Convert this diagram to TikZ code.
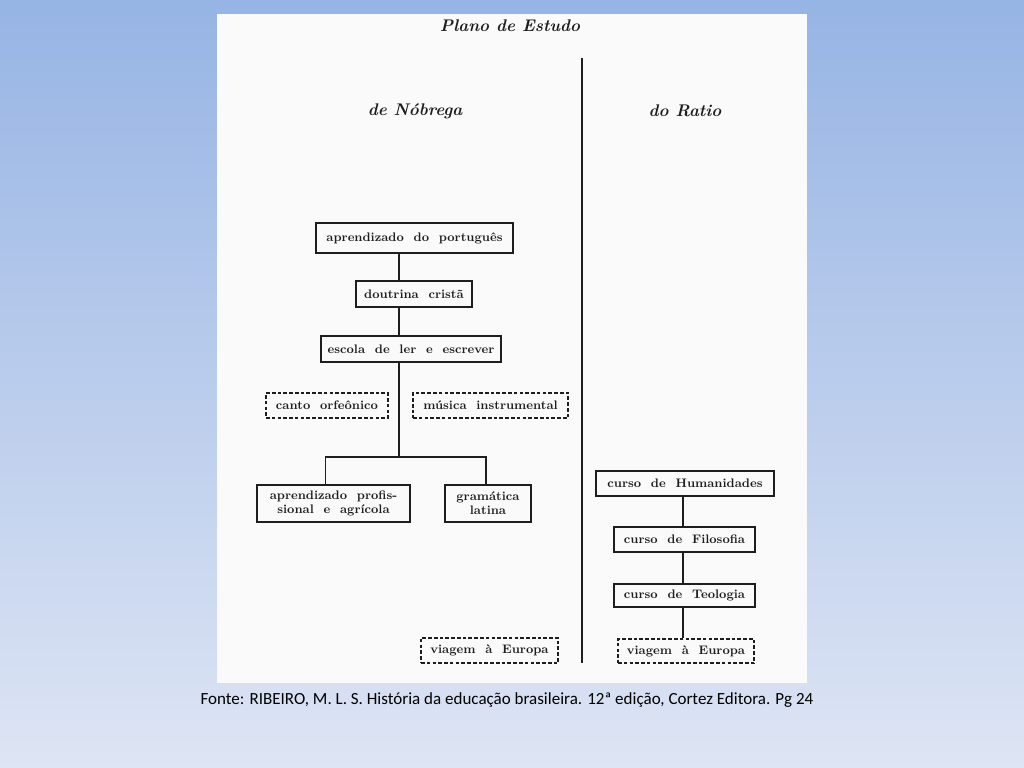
\documentclass[tikz,border=0pt]{standalone}
\usepackage{fontspec}
\newfontfamily\capfont{Carlito}
\usetikzlibrary{positioning,calc}
\definecolor{bgtop}{RGB}{150,180,228}
\definecolor{bgbot}{RGB}{222,229,244}
\definecolor{ink}{RGB}{30,30,30}

\begin{document}
\begin{tikzpicture}[
    x=0.025cm, y=-0.025cm,
    font=\fontsize{8.8}{10}\selectfont\bfseries,
    stbox/.style={draw=ink, line width=1.3pt, inner sep=0pt, align=center, text=ink},
    dbox/.style={stbox, dash pattern=on 2.6pt off 1.5pt},
    bw/.style={minimum width=#1*0.025cm},
    bh/.style={minimum height=#1*0.025cm},
    ln/.style={draw=ink, line width=1.4pt},
    ttl/.style={font=\fontsize{12}{14}\selectfont\bfseries\itshape, text=ink}
  ]
    \useasboundingbox (0,0) rectangle (1024,768);
    \shade[top color=bgtop, bottom color=bgbot] (0,0) rectangle (1024,768);
    \fill[white!98!black] (217,14) rectangle (807,683);

    % titles
    \node[ttl] (plano) at (510,26) {Plano de Estudo};
    \node[ttl] (nob) at (415,111) {de Nóbrega};
    \node[ttl] (ratio) at (685,111) {do Ratio};

    % separator
    \coordinate (sepTop) at (582,58);
    \coordinate (sepBot) at (582,663);
    \draw[ln] (sepTop) -- (sepBot);

    % Nobrega column
    \node[stbox, bw=197, bh=30] (port) at (414.5,238) {aprendizado\ \ do\ \ português};
    \node[stbox, bw=116, bh=26] (dout) at (414,294) {doutrina\ \ cristã};
    \node[stbox, bw=180, bh=26] (esc) at (411,349) {escola\ \ de\ \ ler\ \ e\ \ escrever};
    \node[dbox, bw=122, bh=25] (canto) at (327,405.5) {canto\ \ orfeônico};
    \node[dbox, bw=155, bh=25] (mus) at (490.5,405.5) {música\ \ instrumental};
    \node[stbox, bw=153, bh=37] (aprof) at (333.5,503.5) {aprendizado\ \ profis-\\sional\ \ e\ \ agrícola};
    \node[stbox, bw=86, bh=37] (gram) at (488,503.5) {gramática\\latina};
    \node[dbox, bw=137, bh=25] (viaL) at (489.5,650.5) {viagem\ \ à\ \ Europa};

    \coordinate (spine) at (399,0);
    \coordinate (split) at (399,457);
    \draw[ln] (port.south -| spine) -- (dout.north -| spine);
    \draw[ln] (dout.south -| spine) -- (esc.north -| spine);
    \draw[ln] (esc.south -| spine) -- (split);
    \draw[ln] (split) -| ($(aprof.north)+(-8,0)$);
    \draw[ln] (split) -| ($(gram.north)+(-2,0)$);

    % Ratio column
    \node[stbox, bw=178, bh=25] (hum) at (685,483.5) {curso\ \ de\ \ Humanidades};
    \node[stbox, bw=141, bh=25] (filo) at (684.5,539.5) {curso\ \ de\ \ Filosofia};
    \node[stbox, bw=141, bh=23] (teo) at (684.5,595.5) {curso\ \ de\ \ Teologia};
    \node[dbox, bw=136, bh=24] (viaR) at (686,651) {viagem\ \ à\ \ Europa};

    \coordinate (rspine) at (683,0);
    \draw[ln] (hum.south -| rspine) -- (filo.north -| rspine);
    \draw[ln] (filo.south -| rspine) -- (teo.north -| rspine);
    \draw[ln] (teo.south -| rspine) -- (viaR.north -| rspine);

    % source
    \node[font=\capfont\fontsize{12.1}{14}\selectfont, text=black] (fonte) at (507,700)
      {Fonte: RIBEIRO, M. L. S. História da educação brasileira. 12ª edição, Cortez Editora. Pg 24};
\end{tikzpicture}
\end{document}
